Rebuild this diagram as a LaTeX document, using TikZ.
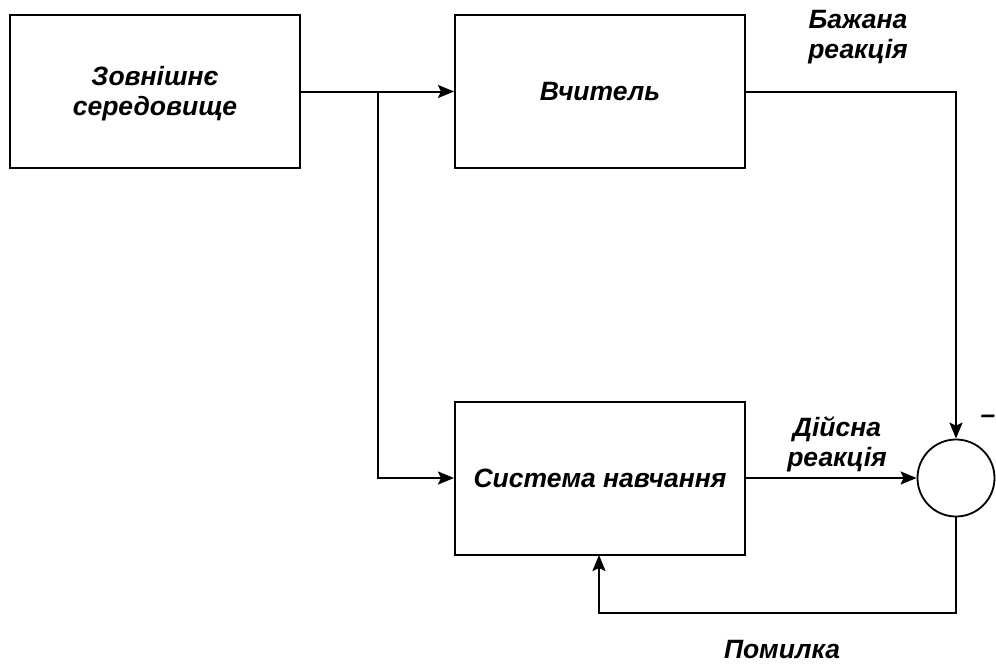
\documentclass[tikz,border=0pt]{standalone}
\usepackage{fontspec}
\setmainfont{Liberation Sans}
\usetikzlibrary{arrows.meta}
\begin{document}
\begin{tikzpicture}[x=1pt,y=-1pt,
  box/.style={draw, line width=2pt, minimum width=290pt, minimum height=153pt, inner sep=0pt},
  lbl/.style={font=\fontsize{26.5}{30}\selectfont\bfseries\itshape, align=center},
  conn/.style={line width=2pt},
  arr/.style={conn, -{Stealth[length=16pt,width=13pt,inset=3pt]}}]
\useasboundingbox (0,0) rectangle (996,665);
\node[box] (env) at (155,91.5) {};
\node[lbl] (envtext) at (155,94) {Зовнішнє\\середовище};
\node[box, lbl] (teach) at (600,91.5) {Вчитель};
\node[box, lbl] (learn) at (600,478) {Система навчання};
\node[draw, circle, line width=1.8pt, minimum size=77pt, inner sep=0pt] (sum) at (956,478) {};
\coordinate (br) at (378,91.5);
\draw[arr] (env.east) -- (teach.west);
\draw[arr] (br) |- (learn.west);
\draw[arr] (teach.east) -| (sum.north);
\draw[arr] (learn.east) -- (sum.west);
\coordinate (fb) at (956,613);
\draw[arr] (sum.south) -- (fb) -| (599,555);
\node[lbl] (want) at (858,37) {Бажана\\реакція};
\node[lbl] (real) at (837,444) {Дійсна\\реакція};
\node[lbl, inner sep=1pt] (err) at (782,650) {Помилка};
\node[lbl, inner sep=0pt] (minus) at (988,419) {–};
\end{tikzpicture}
\end{document}
